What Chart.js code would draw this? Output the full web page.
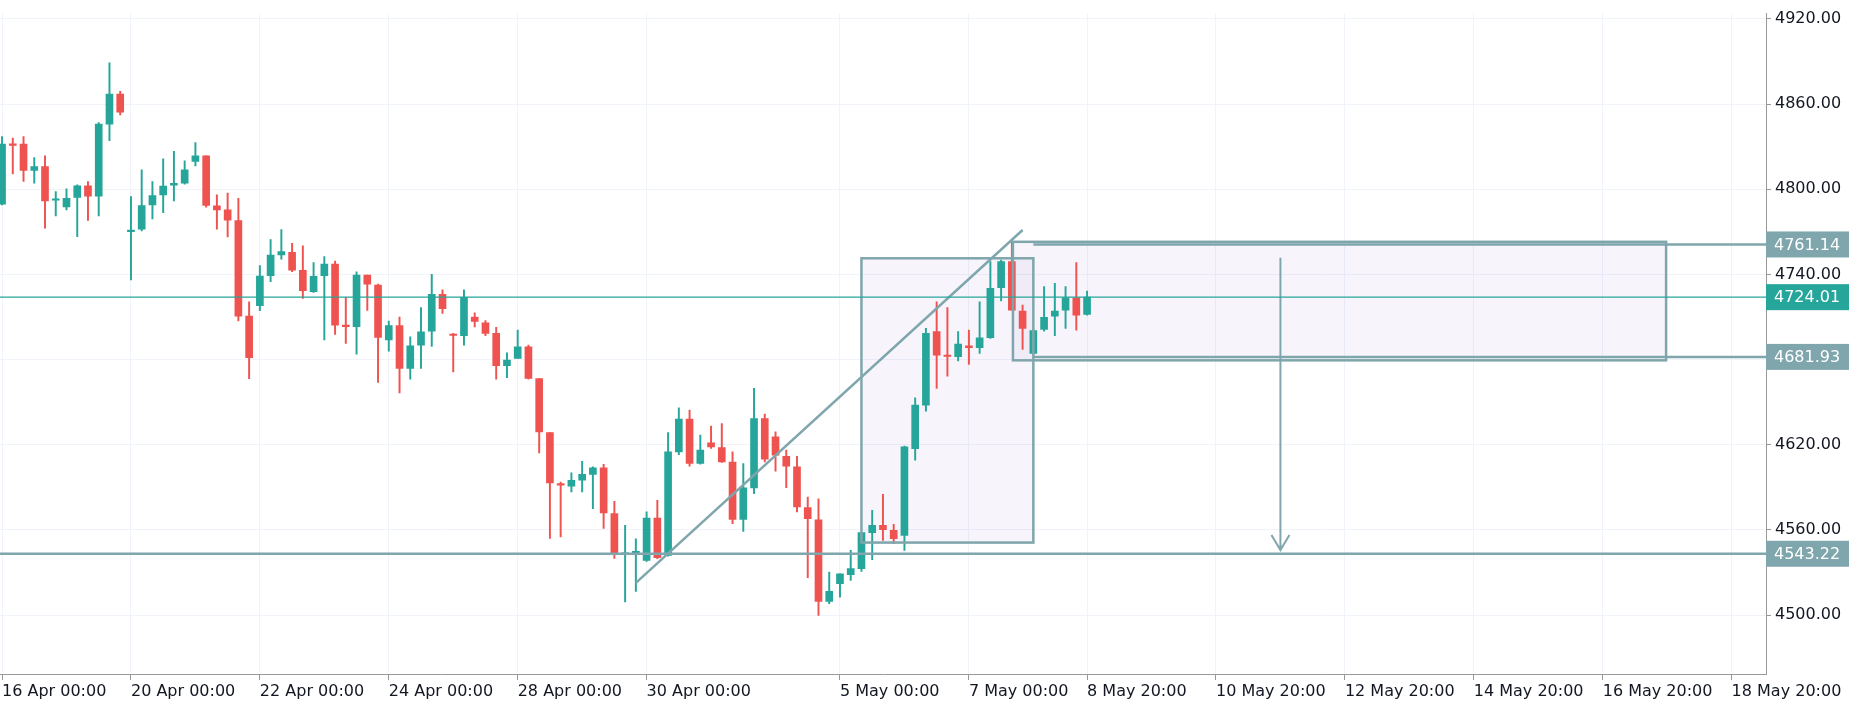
<!DOCTYPE html>
<html><head><meta charset="utf-8">
<script src="https://cdn.jsdelivr.net/npm/chart.js@4.4.1/dist/chart.umd.min.js"></script>
<style>html,body{margin:0;padding:0;background:#fff}#wrap{width:1849px;height:710px}</style>
</head><body><div id="wrap"><canvas id="c"></canvas></div>
<script>
const opens=[4789.5,4831.8,4831.8,4813.3,4816.1,4792.3,4787.6,4794.2,4802.4,4795.1,4845.9,4867.1,4770.2,4771.9,4789,4796.1,4803,4804.3,4819.6,4823.6,4788.3,4785.5,4778,4710.7,4718,4739.2,4753.7,4755.6,4742.9,4727.9,4739.2,4747.4,4704,4703.2,4739.6,4732.6,4693.8,4703.9,4673.8,4690.2,4700.1,4726,4697.5,4696.8,4710,4706,4698.5,4675.7,4680.8,4689.1,4666.7,4628.6,4592.7,4590.8,4595,4599.2,4603.7,4571.5,4542.8,4543.96,4538.6,4568.4,4542.1,4615,4638.1,4606.8,4621.4,4618.1,4607.9,4567.5,4589.6,4638.5,4625.6,4611.9,4604.4,4575.7,4567.2,4509.6,4522.1,4528.4,4532.7,4558.1,4563.3,4559.7,4556.2,4617.3,4647.9,4699.7,4683,4682,4689.8,4688.4,4695.4,4730.7,4749,4714.2,4684.4,4701.3,4710.7,4714.9,4723.6,4711.9];
const highs=[4837.2,4836.1,4837.2,4822.4,4823.6,4798.4,4800.3,4803.1,4805.5,4847.1,4889.2,4869,4794.9,4813.7,4805.5,4821.5,4826.7,4820.1,4833,4823.6,4796.1,4797.3,4793.7,4720.8,4746.2,4764.6,4771.6,4762,4760.1,4748.3,4752.6,4749.5,4723.9,4741.8,4739.6,4733.3,4707.2,4710,4696.1,4716.6,4740.1,4729.1,4698.5,4729.1,4713,4707.5,4702.7,4684.8,4700.8,4690.3,4666.7,4628.6,4593.8,4600.2,4608.4,4604.4,4606.3,4580.2,4563.3,4553.8,4572.7,4580.9,4628.6,4646,4644.4,4626.8,4633.1,4635,4615,4606.8,4659.7,4641.6,4629.1,4616.2,4611.9,4583.2,4582,4530.3,4529.1,4545.6,4558.1,4573.8,4585.1,4564,4619,4653.1,4702,4720.8,4716.6,4699.7,4700.8,4720.8,4749,4750.2,4763.2,4718.5,4700.8,4731.4,4733.8,4731.4,4748.3,4728.3];
const lows=[4789,4810.9,4805.5,4804.3,4772.6,4781.3,4785.5,4766.7,4778,4781.3,4834.2,4852.5,4736.1,4770.7,4779.2,4783.6,4791.8,4803.6,4816.5,4787.4,4771.9,4766.4,4707.2,4666.5,4714.5,4734.9,4750.7,4742,4723.2,4727.4,4693.8,4697.8,4691.4,4683.9,4714.7,4663.9,4686,4656.6,4666.3,4673.8,4689.3,4712.6,4671.4,4690.2,4703,4696.8,4666.3,4667.2,4680.8,4666.3,4614.3,4554,4555,4586.8,4586.8,4575,4561,4540,4509.2,4516.7,4537.9,4539.8,4541.5,4613.1,4604.9,4606.4,4617.4,4607.5,4564.4,4559,4585.6,4607.9,4601.4,4589.8,4572.7,4526.3,4499.7,4508,4512.7,4524.4,4530.8,4539,4552.7,4550.3,4545.6,4609.1,4643.7,4659.7,4668.4,4679,4676.6,4684.4,4694.9,4721.3,4714.9,4687.2,4683.7,4700.1,4696.8,4702,4700.8,4711.4];
const closes=[4831.8,4830.9,4813.3,4816.1,4791.8,4792.6,4793.7,4802.4,4795.1,4845.9,4867.1,4854.4,4771.1,4788.6,4795.6,4802.2,4804.3,4813.7,4823.6,4788.6,4785.5,4778.2,4710.7,4681.3,4738.9,4753.7,4756.1,4743.1,4728.6,4738.7,4747.4,4704.3,4703.2,4739.6,4733.1,4695.6,4703.9,4673.8,4689.8,4699.6,4726,4715.9,4697,4723.9,4707,4698.5,4675.7,4679.7,4689.1,4666.7,4629.1,4593.1,4591.5,4595,4599.2,4603.7,4572,4544,4543.7,4544.9,4568.4,4540.4,4615,4638.1,4606.8,4616.2,4618.5,4607.9,4567.5,4589.6,4638.5,4609.8,4612.7,4604.9,4576.2,4567.9,4509.6,4516.7,4529.1,4532.7,4558.1,4563.3,4560.2,4553.8,4618.5,4647.9,4698.5,4683.2,4682.2,4690.9,4688.4,4695.4,4730.2,4749,4714.9,4702,4700.4,4709.8,4714.2,4723.6,4711.4,4724];

const xTicks=[0,12,24,36,48,60,78,90,101,113,125,137,149,161];
const xTickLabels=['16 Apr 00:00','20 Apr 00:00','22 Apr 00:00','24 Apr 00:00','28 Apr 00:00','30 Apr 00:00','5 May 00:00','7 May 00:00','8 May 20:00','10 May 20:00','12 May 20:00','14 May 20:00','16 May 20:00','18 May 20:00'];
const yTicks=[4500,4560,4620,4680,4740,4800,4860,4920];

// drawings (candle index, price)
const trendLine=[[59.0,4522.7],[95.0,4771.3]];
const boxA=[80.0,96.0,4751.4,4551.1];
const boxB=[94.1,154.9,4763.0,4679.5];
const levelLines=[[4761.14,96],[4681.93,96]];
const lastPrice=4724.01;
const supportLevel=4543.22;
const arrowLine=[119,4751.7,4545.8];
const axisBoxes=[[4761.14,'#7fa6ac'],[4724.01,'#26a69a'],[4681.93,'#7fa6ac'],[4543.22,'#7fa6ac']];

const UP='#26a69a', DN='#ef5350', TOOL='#7fa6ac';
const idx=opens.map((_,i)=>i);
const col=idx.map(i=>closes[i]>=opens[i]?UP:DN);
const FONT='"DejaVu Sans"';

const overlay={
 id:'overlay',
 beforeDatasetsDraw(ch){
  const {ctx,scales:{x,y},chartArea:a}=ch;
  ctx.save();ctx.beginPath();ctx.rect(a.left,a.top,a.width,a.height);ctx.clip();
  ctx.fillStyle='rgba(103,58,183,0.05)';
  for(const b of [boxA,boxB]){
   const x0=x.getPixelForValue(b[0]),x1=x.getPixelForValue(b[1]),y0=y.getPixelForValue(b[2]),y1=y.getPixelForValue(b[3]);
   ctx.fillRect(x0,y0,x1-x0,y1-y0);
  }
  ctx.restore();
 },
 afterDatasetsDraw(ch){
  const {ctx,scales:{x,y},chartArea:a}=ch;
  ctx.save();ctx.beginPath();ctx.rect(a.left,a.top,a.width,a.height);ctx.clip();
  ctx.strokeStyle=TOOL;ctx.lineWidth=2.5;
  for(const b of [boxA,boxB]){
   const x0=x.getPixelForValue(b[0]),x1=x.getPixelForValue(b[1]),y0=y.getPixelForValue(b[2]),y1=y.getPixelForValue(b[3]);
   ctx.strokeRect(x0,y0,x1-x0,y1-y0);
  }
  for(const [p,s] of levelLines){
   const yy=y.getPixelForValue(p);ctx.beginPath();ctx.moveTo(x.getPixelForValue(s),yy);ctx.lineTo(a.right,yy);ctx.stroke();
  }
  ctx.beginPath();ctx.moveTo(x.getPixelForValue(trendLine[0][0]),y.getPixelForValue(trendLine[0][1]));
  ctx.lineTo(x.getPixelForValue(trendLine[1][0]),y.getPixelForValue(trendLine[1][1]));ctx.stroke();
  let yy=y.getPixelForValue(supportLevel);
  ctx.beginPath();ctx.moveTo(a.left,yy);ctx.lineTo(a.right,yy);ctx.stroke();
  const ax=x.getPixelForValue(arrowLine[0]),ay0=y.getPixelForValue(arrowLine[1]),ay1=y.getPixelForValue(arrowLine[2]);
  ctx.lineWidth=2;ctx.beginPath();ctx.moveTo(ax,ay0);ctx.lineTo(ax,ay1);
  ctx.moveTo(ax-9,ay1-15);ctx.lineTo(ax,ay1);ctx.lineTo(ax+9,ay1-15);ctx.stroke();
  yy=y.getPixelForValue(lastPrice);
  ctx.strokeStyle=UP;ctx.lineWidth=1.3;ctx.beginPath();ctx.moveTo(a.left,yy);ctx.lineTo(a.right,yy);ctx.stroke();
  ctx.restore();
 },
 afterDraw(ch){
  const {ctx,scales:{y},chartArea:a}=ch;
  ctx.save();ctx.font='16px '+FONT;ctx.textBaseline='middle';
  for(const [p,c] of axisBoxes){
   const yy=y.getPixelForValue(p);
   ctx.fillStyle=c;ctx.fillRect(a.right,yy-13,ch.width-a.right,26);
   ctx.fillStyle='#fff';ctx.fillText(p.toFixed(2),a.right+8,yy+1);
  }
  ctx.restore();
 }
};

new Chart(document.getElementById('c'),{
 type:'bar',
 data:{datasets:[
  {data:idx.map(i=>({x:i,y:[lows[i],highs[i]]})),backgroundColor:col,barThickness:1.3,grouped:false,minBarLength:1},
  {data:idx.map(i=>({x:i,y:[opens[i],closes[i]]})),backgroundColor:col,barThickness:7,grouped:false,minBarLength:1.5}
 ]},
 options:{
  responsive:true,maintainAspectRatio:false,animation:false,
  layout:{padding:0},
  plugins:{legend:{display:false},tooltip:{enabled:false}},
  scales:{
   x:{type:'linear',min:-0.19,max:164.2,offset:false,
    grid:{offset:false,color:'#f0f3fa',tickLength:6,tickColor:'#999'},border:{color:'#999'},
    afterBuildTicks:s=>{s.ticks=xTicks.map(v=>({value:v}));},
    afterFit:s=>{s.height=36;},
    ticks:{autoSkip:false,maxRotation:0,align:'start',padding:2,color:'#131722',font:{family:FONT,size:16},
     callback:v=>{const k=xTicks.indexOf(v);return k<0?'':xTickLabels[k];}}},
   y:{type:'linear',position:'right',min:4458.5,max:4923.8,
    grid:{color:'#f0f3fa',tickLength:5,tickColor:'#999'},border:{color:'#999'},
    afterBuildTicks:s=>{s.ticks=yTicks.map(v=>({value:v}));},
    afterFit:s=>{s.width=83;},
    ticks:{padding:4,color:'#131722',font:{family:FONT,size:16},callback:v=>v===4680?'':v.toFixed(2)}}
  }
 },
 plugins:[overlay]
});
</script></body></html>
